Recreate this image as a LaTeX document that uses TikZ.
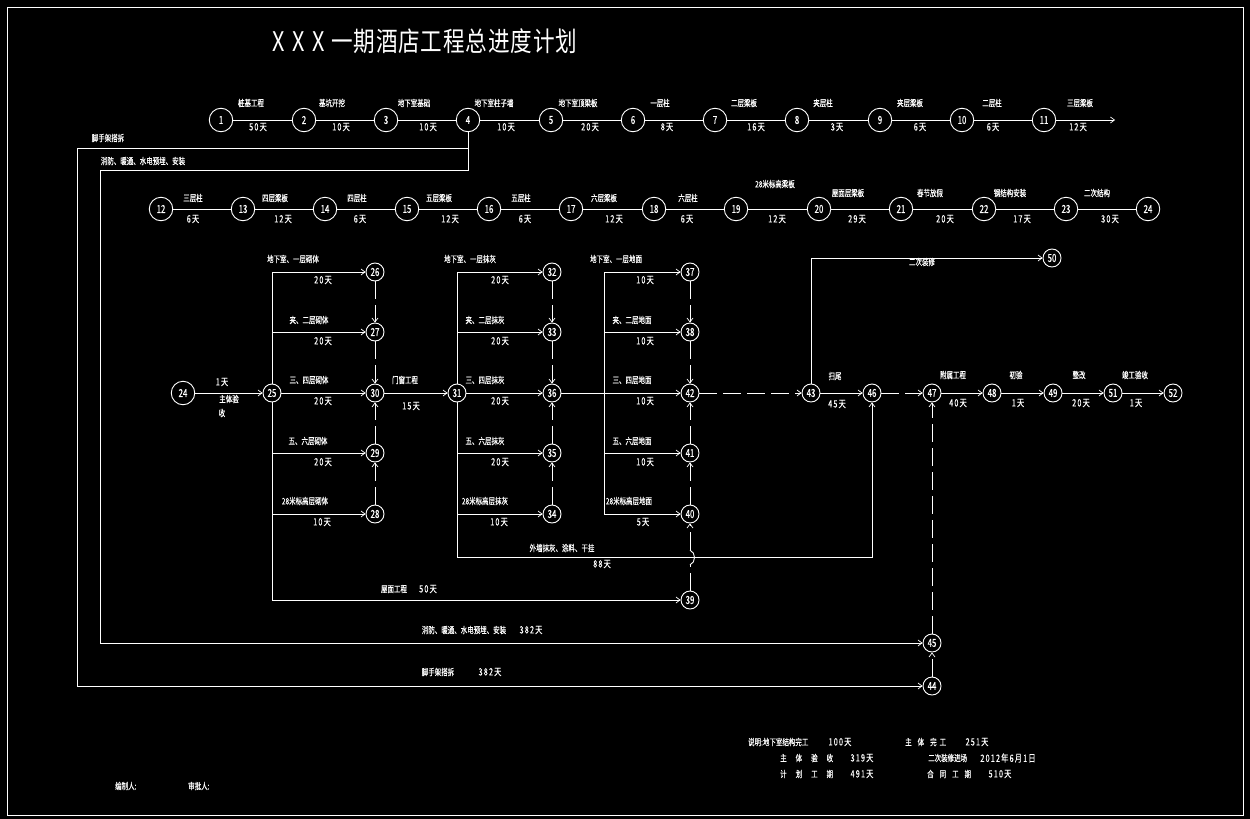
\documentclass[tikz,border=0pt]{standalone}
\usepackage{fontspec}
\usetikzlibrary{arrows.meta}
\newfontfamily\cjklab[FakeStretch=0.72,FakeBold=0.35]{Noto Sans CJK SC}
\newfontfamily\cjkday[FakeStretch=0.72,FakeBold=0.35,LetterSpace=12]{Noto Sans CJK SC}
\newfontfamily\cjktitle[FakeStretch=0.8,LetterSpace=3]{Noto Sans CJK SC}
\newcounter{lc}
\newcommand{\lb}[3]{\stepcounter{lc}\node[lab] (lab\arabic{lc}) at (#1,#2) {#3};}
\newcommand{\dy}[3]{\stepcounter{lc}\node[lab,dayf] (lab\arabic{lc}) at (#1,#2) {#3};}
\newcommand{\lw}[3]{\stepcounter{lc}\node[lab,anchor=west] (lab\arabic{lc}) at (#1,#2) {#3};}
\tikzset{
  lab/.style={text=white,inner sep=0pt,font=\cjklab\fontsize{9}{10}\selectfont},
  dayf/.style={font=\cjkday\fontsize{10}{10}\selectfont},
  big/.style={circle,draw=white,fill=black,text=white,line width=.9pt,minimum size=23.5pt,inner sep=0pt,font=\cjklab\fontsize{11}{11}\selectfont},
  small/.style={big,minimum size=18pt,font=\cjklab\fontsize{11}{11}\selectfont},
  wire/.style={draw=white,line width=.9pt},
  arr/.style={wire,-{Straight Barb[length=4pt,width=6pt,line width=.7pt]}},
  dsh/.style={dash pattern=on 18pt off 6pt},
}
\begin{document}
\begin{tikzpicture}[x=1pt,y=-1pt]
\path[fill=black] (0,0) rectangle (1250,819);
\useasboundingbox (0,0) rectangle (1250,819);
\draw[white,line width=.9pt] (7.5,7.5) rectangle (1243,815.5);
\node[text=white,inner sep=0pt,anchor=west,font=\cjktitle\fontsize{27}{28}\selectfont] (title) at (272,41) {X\hspace{8pt}X\hspace{8pt}X\hspace{6pt}一期酒店工程总进度计划};

% row 1
\foreach \n/\x in {1/221,2/304,3/386,4/468,5/551,6/633,7/715,8/797,9/880,10/962,11/1044}
  \node[big] (n\n) at (\x,120) {\n};
% row 2
\foreach \n/\x in {12/161,13/243,14/325,15/407,16/489,17/571,18/654,19/736,20/819,21/901,22/984,23/1066}
  \node[big] (n\n) at (\x,209) {\n};
\node[big] (n24b) at (1148,209) {24};
\node[big] (n24) at (183,393) {24};
% network
\foreach \n/\x/\y in {25/272/393,30/375/393,26/375/272,27/375/332,29/375/453,28/375/514,
  31/457/393,32/552/272,33/552/332,36/552/393,35/552/453,34/552/514,
  37/690/272,38/690/332,42/690/393,41/690/453,40/690/514,39/690/600,
  43/811/393,46/872/393,47/932/393,48/992/393,49/1053/393,51/1113/393,52/1173/393,
  50/1052/258,45/932/643,44/932/686}
  \node[small] (n\n) at (\x,\y) {\n};

\coordinate (end11) at (1115,120);
\coordinate (bar) at (604,393);
\coordinate (d1) at (468,148);
\coordinate (d2) at (77,148);
\coordinate (d3) at (468,170);
\coordinate (d4) at (100,170);
\coordinate (d5) at (77,686);
\coordinate (d6) at (100,643);
\coordinate (h1) at (690,565);
\coordinate (h2) at (690,550);
\coordinate (e1) at (457,557);
\coordinate (e2) at (872,557);

\draw[wire] (n1)--(n2) (n2)--(n3) (n3)--(n4) (n4)--(n5) (n5)--(n6) (n6)--(n7) (n7)--(n8) (n8)--(n9) (n9)--(n10) (n10)--(n11);
\draw[arr] (n11)--(end11);
\draw[wire] (n12)--(n13) (n13)--(n14) (n14)--(n15) (n15)--(n16) (n16)--(n17) (n17)--(n18) (n18)--(n19) (n19)--(n20) (n20)--(n21) (n21)--(n22) (n22)--(n23) (n23)--(n24b);
\draw[arr] (n24)--(n25);
\draw[arr] (n25)--(n30);
\draw[arr] (n30)--(n31);
\draw[arr] (n31)--(n36);
\draw[arr] (n36)--(n42);
\foreach \t in {26,27,29,28,39} \draw[arr] (n25) |- (n\t);
\foreach \t in {32,33,35,34} \draw[arr] (n31) |- (n\t);
\foreach \t in {37,38,41,40} \draw[arr] (bar) |- (n\t);
\foreach \a/\b in {26/27,27/30,28/29,29/30,32/33,33/36,34/35,35/36,37/38,38/42,40/41,41/42,42/43,46/47,44/45}
  \draw[arr,dsh] (n\a)--(n\b);
\draw[arr,dsh] (n45)--(n47);
\draw[wire,dsh] (n39)--(h1);
\draw[wire] (h1) .. controls (696,562) and (696,553) .. (h2);
\draw[arr,dsh] (h2)--(n40);
\draw[arr] (n43)--(n46);
\draw[arr] (n47)--(n48);
\draw[arr] (n48)--(n49);
\draw[arr] (n49)--(n51);
\draw[arr] (n51)--(n52);
\draw[arr] (n43) |- (n50);
\draw[arr] (n31) -- (e1) -- (e2) -- (n46);
\draw[arr] (n4) -- (d1) -- (d2) -- (d5) -- (n44);
\draw[arr] (n4) -- (d3) -- (d4) -- (d6) -- (n45);

% row 1 labels
\lb{251}{103}{桩基工程}\dy{258}{127}{50天}
\lb{332}{103}{基坑开挖}\dy{341}{127}{10天}
\lb{414}{103}{地下室基础}\dy{428}{127}{10天}
\lb{494}{103}{地下室柱子墙}\dy{506}{127}{10天}
\lb{578}{103}{地下室顶梁板}\dy{590}{127}{20天}
\lb{660}{103}{一层柱}\dy{667}{127}{8天}
\lb{744}{103}{二层梁板}\dy{756}{127}{16天}
\lb{823}{103}{夹层柱}\dy{837}{127}{3天}
\lb{910}{103}{夹层梁板}\dy{920}{127}{6天}
\lb{992}{103}{二层柱}\dy{993}{127}{6天}
\lb{1080}{103}{三层梁板}\dy{1078}{127}{12天}
\lb{108}{138}{脚手架搭拆}
\lb{143}{161}{消防、暖通、水电预埋、安装}
% row 2 labels
\lb{193}{198}{三层柱}\dy{193}{219}{6天}
\lb{275}{198}{四层梁板}\dy{283}{219}{12天}
\lb{357}{198}{四层柱}\dy{360}{219}{6天}
\lb{439}{198}{五层梁板}\dy{450}{219}{12天}
\lb{521}{198}{五层柱}\dy{525}{219}{6天}
\lb{604}{198}{六层梁板}\dy{614}{219}{12天}
\lb{688}{198}{六层柱}\dy{687}{219}{6天}
\lb{775}{184}{28米标高梁板}\dy{777}{219}{12天}
\lb{848}{193}{屋面层梁板}\dy{857}{219}{29天}
\lb{930}{193}{春节放假}\dy{945}{219}{20天}
\lb{1010}{193}{钢结构安装}\dy{1022}{219}{17天}
\lb{1097}{193}{二次结构}\dy{1110}{219}{30天}
% brick
\lb{293}{259}{地下室、一层砌体}\dy{323}{280}{20天}
\lb{309}{320}{夹、二层砌体}\dy{323}{341}{20天}
\lb{309}{380}{三、四层砌体}\dy{323}{401}{20天}
\lb{308}{441}{五、六层砌体}\dy{323}{462}{20天}
\lb{305}{501}{28米标高层砌体}\dy{322}{522}{10天}
\dy{222}{382}{1天}\lb{229}{399}{主体验}\lb{222}{413}{收}
\lb{405}{380}{门窗工程}\dy{411}{406}{15天}
% plaster
\lb{470}{259}{地下室、一层抹灰}\dy{500}{280}{20天}
\lb{485}{320}{夹、二层抹灰}\dy{500}{341}{20天}
\lb{485}{380}{三、四层抹灰}\dy{500}{401}{20天}
\lb{485}{441}{五、六层抹灰}\dy{500}{462}{20天}
\lb{485}{501}{28米标高层抹灰}\dy{499}{522}{10天}
% floors
\lb{616}{259}{地下室、一层地面}\dy{645}{280}{10天}
\lb{632}{320}{夹、二层地面}\dy{645}{341}{10天}
\lb{632}{380}{三、四层地面}\dy{645}{401}{10天}
\lb{632}{441}{五、六层地面}\dy{645}{462}{10天}
\lb{629}{501}{28米标高层地面}\dy{643}{522}{5天}
% long
\lb{562}{548}{外墙抹灰、涂料、干挂}\dy{602}{564}{88天}
\lb{394}{589}{屋面工程}\dy{428}{589}{50天}
\lb{464}{630}{消防、暖通、水电预埋、安装}\dy{531}{630}{382天}
\lb{438}{672}{脚手架搭拆}\dy{490}{672}{382天}
\lb{922}{262}{二次装修}
\lb{835}{376}{扫尾}\dy{837}{404}{45天}
\lb{953}{375}{附属工程}\dy{958}{403}{40天}
\lb{1016}{375}{初验}\dy{1018}{403}{1天}
\lb{1079}{375}{整改}\dy{1081}{403}{20天}
\lb{1135}{375}{竣工验收}\dy{1136}{403}{1天}
% notes
\lw{748}{742}{说明:地下室结构完工}\dy{840}{742}{100天}
\lw{905}{742}{主\hspace{6pt}体\hspace{6pt}完\hspace{3pt}工}\dy{977}{742}{251天}
\lw{780}{758}{主\hspace{9pt}体\hspace{9pt}验\hspace{9pt}收}\dy{862}{758}{319天}
\lw{928}{758}{二次装修进场}\dy{1008}{758}{2012年6月1日}
\lw{780}{774}{计\hspace{9pt}划\hspace{9pt}工\hspace{9pt}期}\dy{862}{774}{491天}
\lw{927}{774}{合\hspace{6pt}同\hspace{6pt}工\hspace{6pt}期}\dy{1000}{774}{510天}
\lw{115}{786}{编制人:}
\lw{188}{786}{审批人:}
\end{tikzpicture}
\end{document}
